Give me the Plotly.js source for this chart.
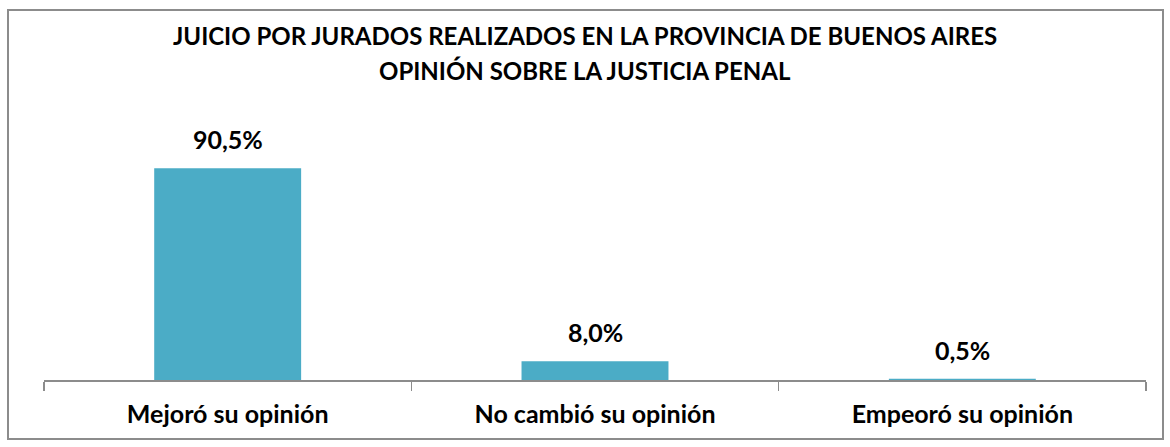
<!DOCTYPE html>
<html>
<head>
<meta charset="utf-8">
<script src="https://cdn.plot.ly/plotly-3.0.1.min.js"></script>
<style>
  html, body { margin: 0; padding: 0; background: #fff; }
  #chart { width: 1170px; height: 447px; }
  #frame {
    position: absolute; left: 7px; top: 9px;
    width: 1153px; height: 427px;
    border: 2px solid #8c8c8c; pointer-events: none;
  }
</style>
</head>
<body>
<div id="chart"></div>
<div id="frame"></div>
<script>
// data
const categories = ["Mejoró su opinión", "No cambió su opinión", "Empeoró su opinión"];
const percentages = [90.5, 8.0, 0.5];
const valueLabels = ["90,5%", "8,0%", "0,5%"];
const titleLine1 = "JUICIO POR JURADOS REALIZADOS EN LA PROVINCIA DE BUENOS AIRES";
const titleLine2 = "OPINIÓN SOBRE LA JUSTICIA PENAL";

const FONT = "Lato, 'Noto Sans', sans-serif";
const BAR_COLOR = "#4bacc6";

const bars = {
  type: "bar",
  x: categories,
  y: percentages,
  width: 0.4,
  marker: {color: BAR_COLOR},
  hoverinfo: "skip"
};

// value labels above each bar
const labelNotes = categories.map((c, i) => ({
  x: c, y: percentages[i], xref: "x", yref: "y",
  text: "<b>" + valueLabels[i] + "</b>", showarrow: false,
  yanchor: "bottom", yshift: 12,
  font: {family: FONT, size: 25, color: "#000"}
}));

// two title lines, Excel-style spacing
const titleNotes = [
  {text: titleLine1, y: 1.474},
  {text: titleLine2, y: 1.322}
].map(t => ({
  text: "<b>" + t.text + "</b>", x: 0.491, y: t.y, xref: "paper", yref: "paper",
  showarrow: false, xanchor: "center", yanchor: "middle",
  font: {family: FONT, size: 24, color: "#000"}
}));

const layout = {
  width: 1170,
  height: 447,
  margin: {l: 44, r: 24, t: 146, b: 67},
  paper_bgcolor: "#fff",
  plot_bgcolor: "#fff",
  showlegend: false,
  font: {family: FONT, color: "#000"},
  xaxis: {
    type: "category",
    showline: true,
    linecolor: "#8c8c8c",
    linewidth: 1.5,
    ticks: "outside",
    tickson: "boundaries",
    ticklen: 9,
    tickcolor: "#8c8c8c",
    tickwidth: 1.5,
    ticklabelstandoff: 11,
    tickfont: {family: FONT, size: 25, color: "#000", weight: "bold"},
    showgrid: false,
    zeroline: false
  },
  yaxis: {
    range: [0, 100],
    visible: false,
    showgrid: false,
    zeroline: false
  },
  annotations: labelNotes.concat(titleNotes)
};

Plotly.newPlot("chart", [bars], layout, {displayModeBar: false, staticPlot: true});
</script>
</body>
</html>
